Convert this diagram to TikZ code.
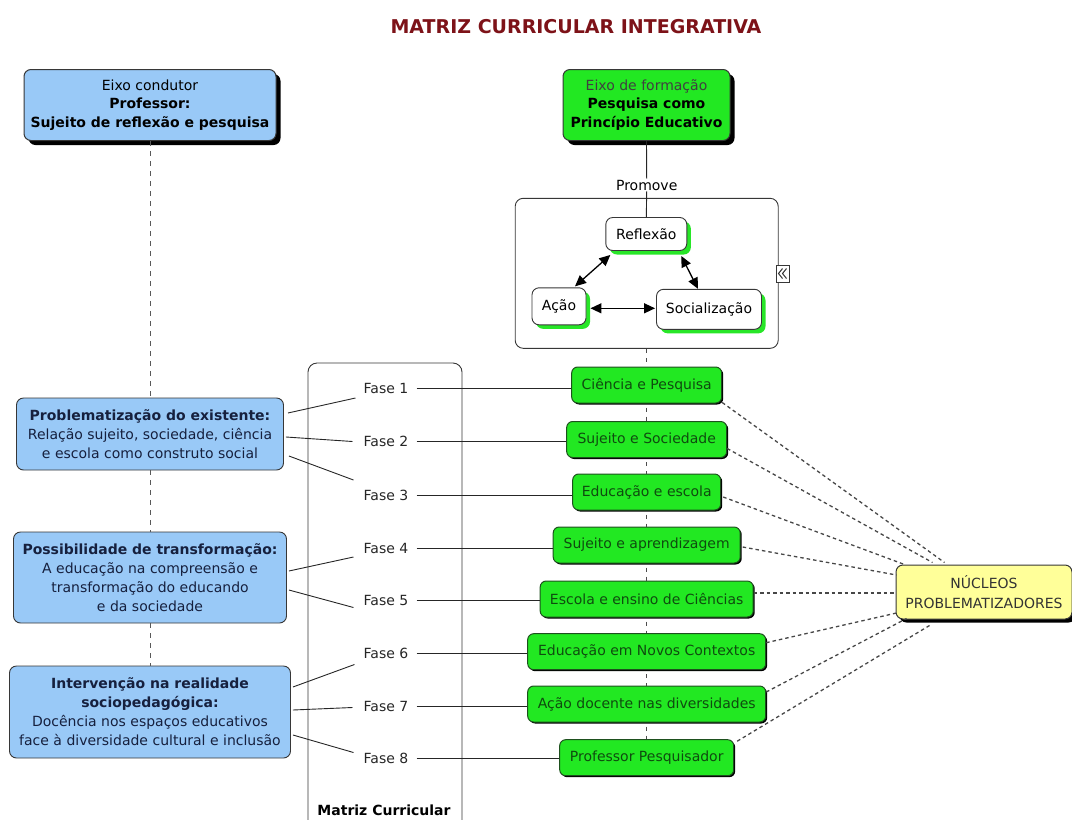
\documentclass[tikz,border=0pt]{standalone}
\usepackage{fontspec}
\setmainfont{DejaVu Sans}
\usetikzlibrary{arrows.meta,calc}
\definecolor{titlered}{RGB}{125,18,24}
\definecolor{bluefill}{RGB}{153,201,247}
\definecolor{greenfill}{RGB}{34,232,34}
\definecolor{greentext}{RGB}{15,75,15}
\definecolor{greenborder}{RGB}{30,80,30}
\definecolor{yellowfill}{RGB}{255,255,153}
\definecolor{edgegray}{RGB}{55,55,55}
\definecolor{bluetext}{RGB}{22,32,62}
\definecolor{triadgreen}{RGB}{40,230,40}
\begin{document}
\begin{tikzpicture}[x=1pt,y=-1pt,
  every node/.style={font=\fontsize{14}{18.5}\selectfont},
  eixo/.style={draw=edgegray, line width=1pt, rounded corners=7pt, align=center, inner sep=0pt,
    preaction={fill=black, transform canvas={xshift=4.5pt,yshift=-4.5pt}}},
  bluebox/.style={draw=edgegray, line width=0.9pt, fill=bluefill, rounded corners=7pt, align=center,
    text=bluetext, inner sep=0pt, font=\fontsize{14}{19}\selectfont},
  triad/.style={draw=edgegray, line width=0.9pt, fill=white, rounded corners=7pt, inner sep=0pt,
    preaction={fill=triadgreen, transform canvas={xshift=4pt,yshift=-4pt}}},
  phase/.style={draw=greenborder, line width=1pt, fill=greenfill, rounded corners=6pt, text=greentext,
    minimum height=36pt, inner sep=0pt,
    preaction={fill=black, transform canvas={xshift=1.5pt,yshift=-1.5pt}}},
  fase/.style={inner sep=2pt, text=black!85},
  core/.style={draw=edgegray, line width=1pt, fill=yellowfill, rounded corners=7pt, align=center,
    text=black!80, inner sep=0pt, font=\fontsize{14}{20}\selectfont,
    preaction={fill=black, transform canvas={xshift=3.5pt,yshift=-3.5pt}}},
  link/.style={draw=black!85, line width=0.9pt},
  dotlink/.style={draw=black!72, line width=1.3pt, dash pattern=on 3.5pt off 3pt},
  axis/.style={draw=black!65, line width=0.9pt, dash pattern=on 5pt off 5pt},
  gaxis/.style={draw=black!70, line width=1pt, dash pattern=on 4pt off 5pt},
  chev/.style={draw=black!80, line width=1pt},
  biarrow/.style={{Triangle[length=11pt,width=10pt]}-{Triangle[length=11pt,width=10pt]}, line width=1.3pt, draw=black}
]
\useasboundingbox (0,0) rectangle (1072,820);

% title
\node[font=\fontsize{19}{20}\selectfont\bfseries, text=titlered] (title) at (576,27) {MATRIZ CURRICULAR INTEGRATIVA};

% top axes
\node[eixo, fill=bluefill, minimum width=252pt, minimum height=71pt] (EC) at (150,105)
  {Eixo condutor\\\textbf{Professor:}\\\textbf{Sujeito de reflexão e pesquisa}};
\node[eixo, fill=greenfill, minimum width=167pt, minimum height=71pt] (EF) at (646.5,105)
  {\textcolor{black!75}{Eixo de formação}\\\textbf{Pesquisa como}\\\textbf{Princípio Educativo}};

\node[inner sep=1pt] (prom) at (646.7,185) {Promove};

% triad container
\node[draw=edgegray, line width=0.9pt, rounded corners=8pt, minimum width=263pt, minimum height=150pt, inner sep=0pt] (cont) at (646.7,273.3) {};
\node[triad, minimum width=81pt, minimum height=33pt] (refl) at (646.3,234) {Reflexão};
\node[triad, minimum width=54pt, minimum height=37pt] (acao) at (559,306.3) {Ação};
\node[triad, minimum width=105pt, minimum height=40pt] (soc) at (709,309.3) {Socialização};
\node[draw=edgegray, fill=white, line width=0.8pt, minimum width=13pt, minimum height=17pt, inner sep=0pt] (icon) at (782.5,273.5) {};
\draw[chev] ($(icon.center)+(0,-5)$) -- ++(-4,5) -- ++(4,5);
\draw[chev] ($(icon.center)+(4,-5)$) -- ++(-4,5) -- ++(4,5);

\draw[link] (EF.south) -- (prom.north);
\draw[link] (prom.south) -- (refl.north);
\draw[biarrow] ($(acao.north)+(16,-1)$) -- ($(refl.south west)+(5,4)$);
\draw[biarrow] ($(refl.south east)+(-6,5)$) -- ($(soc.north)+(-11,0)$);
\draw[biarrow] ($(acao.east)+(4,2)$) -- ($(soc.west)+(-1,-1)$);

% left blue boxes
\node[bluebox, minimum width=267pt, minimum height=72pt] (P) at (150,434)
  {\textbf{Problematização do existente:}\\Relação sujeito, sociedade, ciência\\e escola como construto social};
\node[bluebox, minimum width=273pt, minimum height=91pt] (Q) at (150,577.5)
  {\textbf{Possibilidade de transformação:}\\A educação na compreensão e\\transformação do educando\\e da sociedade};
\node[bluebox, minimum width=281pt, minimum height=92pt] (R) at (150,712)
  {\textbf{Intervenção na realidade}\\\textbf{sociopedagógica:}\\Docência nos espaços educativos\\face à diversidade cultural e inclusão};

\draw[axis] (EC.south) -- (P.north);
\draw[axis] (P.south) -- (Q.north);
\draw[axis] (Q.south) -- (R.north);

% Matriz curricular column
\node[draw=edgegray, line width=0.9pt, rounded corners=9pt, minimum width=154pt, minimum height=470pt, inner sep=0pt] (MC) at (385,598) {};
\node[font=\fontsize{14}{16}\selectfont\bfseries] (mclabel) at (384,810) {Matriz Curricular};

\foreach \i/\y in {1/388,2/441.5,3/495,4/548,5/600.5,6/653.5,7/706.5,8/758.5}
  \node[fase] (f\i) at (386,\y) {Fase \i};

% phase nodes
\node[phase, minimum width=150pt] (g1) at (646.7,385) {Ciência e Pesquisa};
\node[phase, minimum width=160pt] (g2) at (646.7,439.5) {Sujeito e Sociedade};
\node[phase, minimum width=148pt] (g3) at (646.7,492) {Educação e escola};
\node[phase, minimum width=187pt] (g4) at (646.7,545) {Sujeito e aprendizagem};
\node[phase, minimum width=213pt] (g5) at (646.7,599) {Escola e ensino de Ciências};
\node[phase, minimum width=238pt] (g6) at (646.7,651.7) {Educação em Novos Contextos};
\node[phase, minimum width=238pt] (g7) at (646.7,704) {Ação docente nas diversidades};
\node[phase, minimum width=174pt] (g8) at (646.7,757.7) {Professor Pesquisador};

\draw[gaxis] (cont.south) -- (g1.north);
\draw[gaxis] ($(g1.south)+(0,4)$) -- (g2.north);
\draw[gaxis] ($(g2.south)+(0,4)$) -- (g3.north);
\draw[gaxis] ($(g3.south)+(0,4)$) -- (g4.north);
\draw[gaxis] ($(g4.south)+(0,4)$) -- (g5.north);
\draw[gaxis] ($(g5.south)+(0,4)$) -- (g6.north);
\draw[gaxis] ($(g6.south)+(0,4)$) -- (g7.north);
\draw[gaxis] ($(g7.south)+(0,4)$) -- (g8.north);

\foreach \i in {1,...,8}
  \draw[link, shorten <=6pt] (f\i.east) -- (f\i.east -| g\i.west);

% blue boxes to phases
\draw[link] ($(P.east)+(4,-21)$) -- ($(f1.west)+(-6,10)$);
\draw[link] ($(P.east)+(2,3)$) -- ($(f2.west)+(-9,0)$);
\draw[link] ($(P.east)+(5,22)$) -- ($(f3.west)+(-8,-15)$);
\draw[link] ($(Q.east)+(2,-6.5)$) -- ($(f4.west)+(-8,9)$);
\draw[link] ($(Q.east)+(2,12.5)$) -- ($(f5.west)+(-8,7)$);
\draw[link] ($(R.east)+(2,-25)$) -- ($(f6.west)+(-7,11)$);
\draw[link] ($(R.east)+(2,-2)$) -- ($(f7.west)+(-9,1)$);
\draw[link] ($(R.east)+(2,23)$) -- ($(f8.west)+(-8,-6)$);

% nucleos
\node[core, minimum width=176pt, minimum height=54pt] (Y) at (984,592) {NÚCLEOS\\PROBLEMATIZADORES};

\draw[dotlink] ($(g1.south east)+(0,-1)$) -- ($(Y.north west)+(49,-2)$);
\draw[dotlink] ($(g2.east)+(0,9)$) -- ($(Y.north west)+(37,-2)$);
\draw[dotlink] ($(g3.east)+(2,5)$) -- ($(Y.north west)+(9,0)$);
\draw[dotlink] ($(g4.east)+(2,2)$) -- ($(Y.west)+(1,-17)$);
\draw[dotlink] ($(g5.east)+(0,-6)$) -- ($(Y.west)+(0,1)$);
\draw[dotlink] ($(g6.east)+(0,-9)$) -- ($(Y.west)+(1,21)$);
\draw[dotlink] ($(g7.east)+(0,-12)$) -- ($(Y.south west)+(11,-1)$);
\draw[dotlink] ($(g8.north east)+(3,2)$) -- ($(Y.south west)+(34,6)$);
\end{tikzpicture}
\end{document}
